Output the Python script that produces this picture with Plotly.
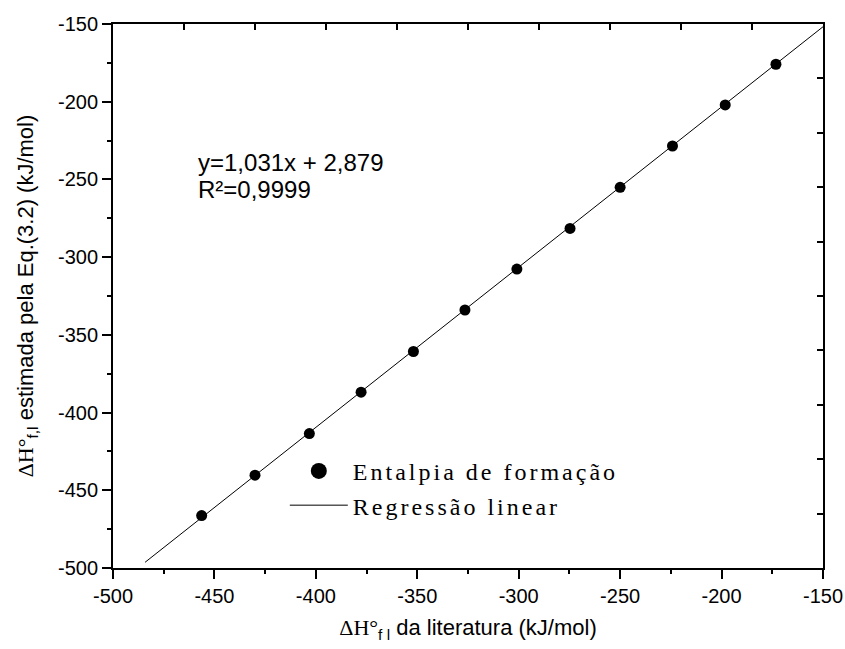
import plotly.graph_objects as go

# Data
lit_x = [-456.3, -430.0, -403.2, -377.7, -351.9, -326.5, -300.9, -274.7, -250.0, -224.2, -198.2, -173.2]
est_y = [-466.3, -440.3, -413.5, -386.9, -360.7, -334.0, -307.7, -281.5, -255.1, -228.5, -202.1, -175.9]
slope = 1.031
intercept = 2.879
fit_x = [-484.2, -150.0]
fit_y = [slope * v + intercept for v in fit_x]

x_range = [-500, -150]
y_range = [-500, -150]
major_ticks = [-500, -450, -400, -350, -300, -250, -200, -150]
major_labels = ["-500", "-450", "-400", "-350", "-300", "-250", "-200", "-150"]

AX_FONT = "Arial, Liberation Sans, sans-serif"
SERIF = "Times New Roman, Liberation Serif, serif"

fig = go.Figure()
fig.add_trace(go.Scatter(
    x=lit_x, y=est_y, mode="markers", name="Entalpia de formação",
    marker=dict(color="black", size=11, symbol="circle"), showlegend=False,
))
fig.add_trace(go.Scatter(
    x=fit_x, y=fit_y, mode="lines", name="Regressão linear",
    line=dict(color="black", width=1), showlegend=False,
))
# legend entries (larger legend symbol as in the reference)
fig.add_trace(go.Scatter(
    x=[None], y=[None], mode="markers", name="Entalpia de formação",
    marker=dict(color="black", size=16, symbol="circle"),
))
fig.add_trace(go.Scatter(
    x=[None], y=[None], mode="lines", name="Regressão linear",
    line=dict(color="black", width=1),
))
# helper (invisible) trace to activate mirrored top/right axes
fig.add_trace(go.Scatter(
    x=[x_range[0]], y=[y_range[0]], xaxis="x2", yaxis="y2", mode="markers",
    marker=dict(opacity=0), showlegend=False, hoverinfo="skip",
))

common = dict(
    showgrid=False, zeroline=False, showline=True, linecolor="black", linewidth=2,
    ticks="outside", ticklen=9, tickwidth=2, tickcolor="black", automargin=False,
    tickfont=dict(family=AX_FONT, size=20, color="black"),
    tickmode="array", tickvals=major_ticks, ticktext=major_labels,
    minor=dict(tickmode="linear", tick0=-500, dtick=25, ticks="outside",
               ticklen=4, tickwidth=1.5, tickcolor="black"),
)
mirror = dict(
    showgrid=False, zeroline=False, showline=True, linecolor="black", linewidth=2,
    tickmode="linear", tick0=-500, dtick=35, ticks="inside", ticklen=6,
    tickwidth=1.5, tickcolor="black", showticklabels=False, automargin=False,
)

fig.update_layout(
    width=845, height=649,
    margin=dict(l=113, r=22, t=24, b=81),
    paper_bgcolor="white", plot_bgcolor="white",
    font=dict(family=AX_FONT, color="black"),
    xaxis=dict(
        range=x_range, **common,
        title=dict(
            text='<span style="font-family:Times New Roman, Liberation Serif, serif">ΔH°</span><sub>f l</sub> da literatura (kJ/mol)',
            font=dict(family=AX_FONT, size=22, color="black"), standoff=14),
    ),
    yaxis=dict(
        range=y_range, **common,
        title=dict(
            text='<span style="font-family:Times New Roman, Liberation Serif, serif">ΔH°</span><sub>f,l</sub> estimada pela Eq.(3.2) (kJ/mol)',
            font=dict(family=AX_FONT, size=22, color="black"), standoff=18),
    ),
    xaxis2=dict(overlaying="x", side="top", range=x_range, **mirror),
    yaxis2=dict(overlaying="y", side="right", range=y_range, **mirror),
    legend=dict(
        x=0.242, y=0.219, xanchor="left", yanchor="top",
        bgcolor="rgba(0,0,0,0)", borderwidth=0,
        font=dict(family=SERIF, size=24, color="black"),
        itemwidth=58, tracegroupgap=0,
    ),
    showlegend=True,
    annotations=[
        dict(text="y=1,031x + 2,879", xref="paper", yref="paper",
             x=0.117, y=0.746, xanchor="left", yanchor="middle", showarrow=False,
             font=dict(family=AX_FONT, size=24, color="black")),
        dict(text="R²=0,9999", xref="paper", yref="paper",
             x=0.117, y=0.695, xanchor="left", yanchor="middle", showarrow=False,
             font=dict(family=AX_FONT, size=24, color="black")),
    ],
)

post = """
var gd = document.getElementById('{plot_id}');
function spaceLegend(){
  document.querySelectorAll('.legendtext').forEach(function(e){ e.style.letterSpacing = '3px'; });
  document.querySelectorAll('.legend [clip-path], .legend').forEach(function(e){ e.removeAttribute('clip-path'); });
}
spaceLegend();
setTimeout(spaceLegend, 50);
if (gd && gd.on) { gd.on('plotly_afterplot', spaceLegend); }
"""

fig.write_html("out.html", post_script=post)
